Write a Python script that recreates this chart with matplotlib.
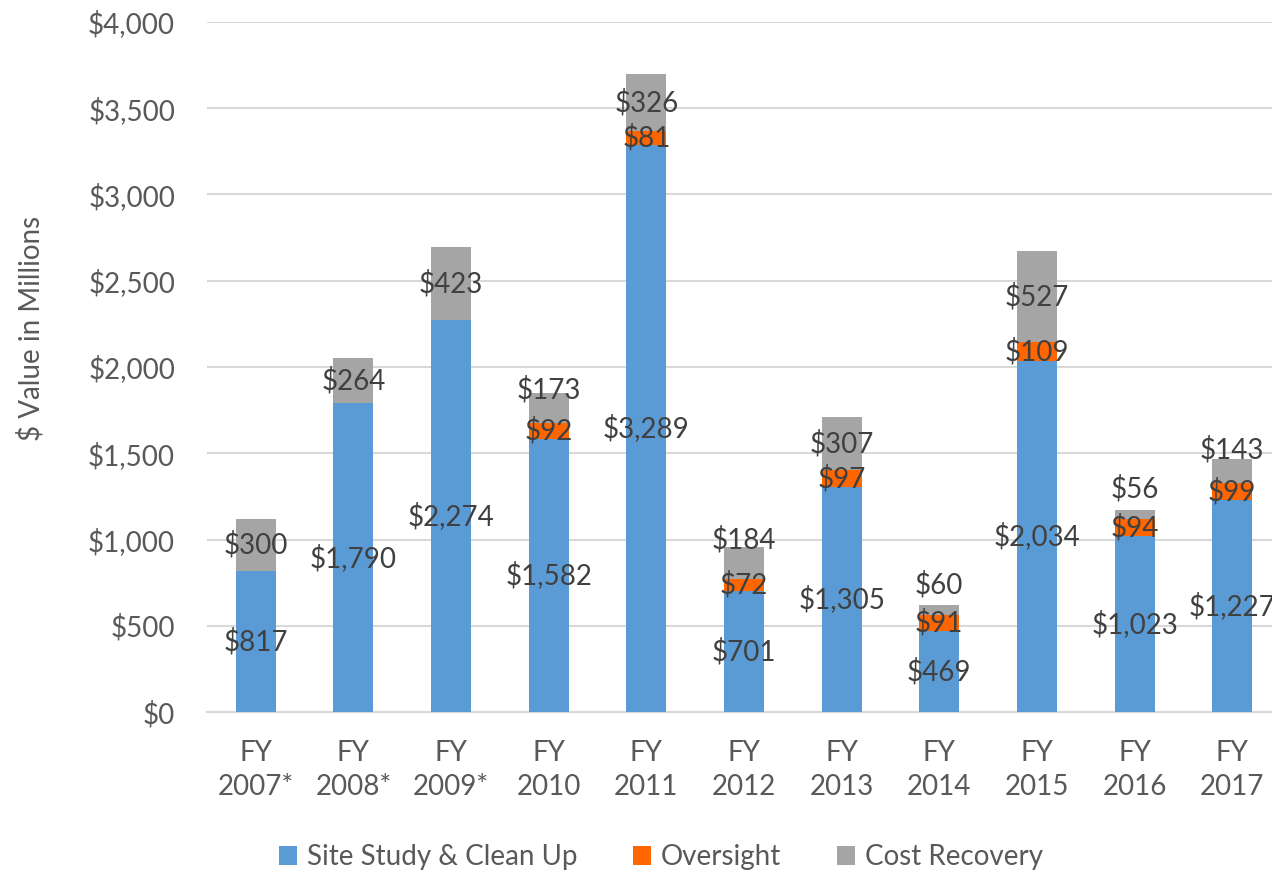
import numpy as np
import matplotlib
matplotlib.use('Agg')
import matplotlib.pyplot as plt

plt.rcParams['font.family'] = ['Lato', 'DejaVu Sans']

# Data (millions of dollars)
years = ['FY\n2007*', 'FY\n2008*', 'FY\n2009*', 'FY\n2010', 'FY\n2011', 'FY\n2012',
         'FY\n2013', 'FY\n2014', 'FY\n2015', 'FY\n2016', 'FY\n2017']
cleanup = [817, 1790, 2274, 1582, 3289, 701, 1305, 469, 2034, 1023, 1227]
oversight = [0, 0, 0, 92, 81, 72, 97, 91, 109, 94, 99]
recovery = [300, 264, 423, 173, 326, 184, 307, 60, 527, 56, 143]

# small cost-recovery labels were nudged upward in the original
recovery_lift = [0, 0, 0, 107, 0, 132, 0, 146, 0, 148, 122]

c_blue = '#5B9BD5'
c_orange = '#FF6600'
c_gray = '#A5A5A5'
txt = '#404040'
tick_c = '#595959'

fig = plt.figure(figsize=(12.72, 8.72), dpi=100)
ax = fig.add_axes([207 / 1272, 160 / 872, (1281 - 207) / 1272, 690 / 872])

x = np.arange(len(years))
w = 0.41
cleanup = np.array(cleanup)
oversight = np.array(oversight)
recovery = np.array(recovery)

ax.bar(x, cleanup, w, color=c_blue, label='Site Study & Clean Up', zorder=3)
ax.bar(x, oversight, w, bottom=cleanup, color=c_orange, label='Oversight', zorder=3)
ax.bar(x, recovery, w, bottom=cleanup + oversight, color=c_gray, label='Cost Recovery', zorder=3)

fs = 20
for i in range(len(x)):
    ax.text(x[i], cleanup[i] / 2, f'${cleanup[i]:,}', ha='center', va='center',
            fontsize=fs, color=txt, zorder=4)
    if oversight[i] > 0:
        ax.text(x[i], cleanup[i] + oversight[i] / 2, f'${oversight[i]:,}', ha='center',
                va='center', fontsize=fs, color=txt, zorder=4)
    base = cleanup[i] + oversight[i]
    ax.text(x[i], base + recovery[i] / 2 + recovery_lift[i], f'${recovery[i]:,}',
            ha='center', va='center', fontsize=fs, color=txt, zorder=4)

ax.set_xlim(-0.5, len(years) - 0.5)
ax.set_ylim(0, 4000)
ax.set_yticks(np.arange(0, 4001, 500))
ax.set_yticklabels([f'${v:,}' for v in range(0, 4001, 500)])
ax.set_xticks(x)
ax.set_xticklabels(years, linespacing=1.4)
ax.tick_params(axis='both', length=0, labelsize=fs, colors=tick_c)
ax.tick_params(axis='y', pad=23)
ax.tick_params(axis='x', pad=20)

ax.grid(axis='y', color='#D9D9D9', linewidth=1.5, zorder=0)
for s in ['top', 'right', 'left']:
    ax.spines[s].set_visible(False)
ax.spines['bottom'].set_color('#D9D9D9')
ax.spines['bottom'].set_linewidth(1.5)

fig.text(31 / 1272, (872 - 328) / 872, '$ Value in Millions', rotation=90, ha='center',
         va='center', fontsize=fs, color=tick_c)

fig.legend(loc='center', bbox_to_anchor=(661 / 1272, 15 / 872), ncol=3, frameon=False,
           fontsize=fs, labelcolor=tick_c, handlelength=0.65, handleheight=0.65,
           handletextpad=0.35, columnspacing=2.0)

fig.savefig('out.png', dpi=100)
